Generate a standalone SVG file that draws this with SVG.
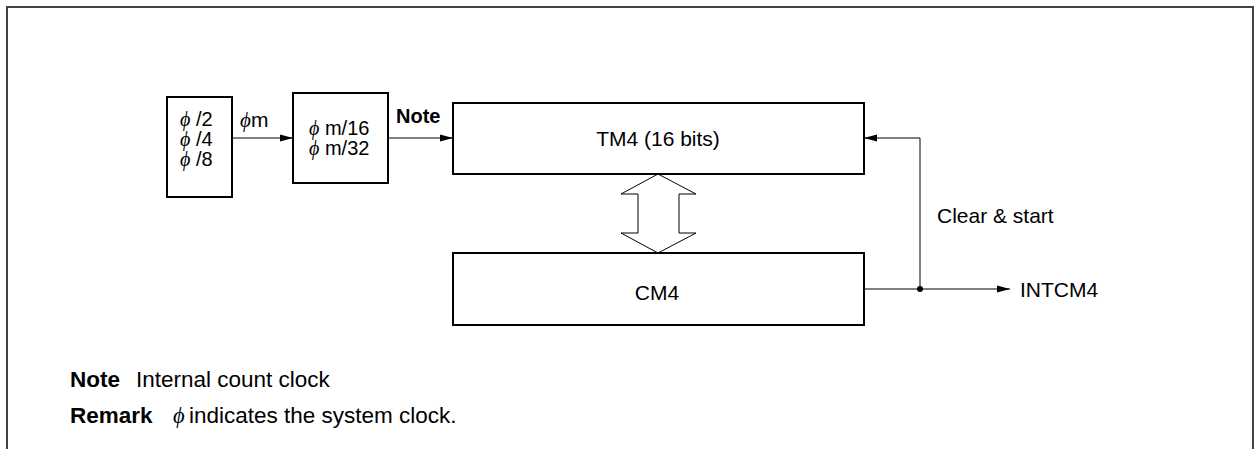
<svg xmlns="http://www.w3.org/2000/svg" width="1254" height="449" viewBox="0 0 1254 449">
<style>
.box{fill:#fff;stroke:#000;stroke-width:2}
.ln{fill:none;stroke:#000;stroke-width:1}
.t{font-family:"Liberation Sans",Arial,sans-serif;font-size:21px;fill:#000}
.s{font-size:20px}
.n{font-size:22.5px}
.b{font-weight:bold}
.phi{font-family:"Liberation Serif","DejaVu Serif",serif;font-style:italic}
</style>
<defs>
<marker id="ah" markerWidth="13" markerHeight="8" refX="13" refY="4" orient="auto" markerUnits="userSpaceOnUse">
<path d="M0,0.5 L13,4 L0,7.5 Z" fill="#000"/>
</marker>
</defs>
<rect width="1254" height="449" fill="#fff"/>
<path d="M7,449 V7 H1253 V449" fill="none" stroke="#444" stroke-width="2"/>

<g id="prescaler1">
<rect class="box" x="167" y="97" width="65" height="100"/>
<text class="t s" x="180" y="126"><tspan class="phi">ϕ</tspan> /2</text>
<text class="t s" x="180" y="146"><tspan class="phi">ϕ</tspan> /4</text>
<text class="t s" x="180" y="166"><tspan class="phi">ϕ</tspan> /8</text>
</g>
<g id="prescaler2">
<rect class="box" x="293" y="93" width="95" height="90"/>
<text class="t s" x="309" y="135"><tspan class="phi">ϕ</tspan> m/16</text>
<text class="t s" x="309" y="155"><tspan class="phi">ϕ</tspan> m/32</text>
</g>
<g id="tm4">
<rect class="box" x="453" y="103" width="411" height="71"/>
<text class="t" x="658" y="146" text-anchor="middle">TM4 (16 bits)</text>
</g>
<g id="cm4">
<rect class="box" x="453" y="253" width="411" height="72"/>
<text class="t" x="657" y="300" text-anchor="middle">CM4</text>
</g>

<g id="connectors">
<line class="ln" x1="232" y1="138" x2="293" y2="138" marker-end="url(#ah)"/>
<line class="ln" x1="388" y1="138" x2="453" y2="138" marker-end="url(#ah)"/>
<polyline class="ln" points="864,289 920,289 920,138 864,138" marker-end="url(#ah)"/>
<line class="ln" x1="920" y1="289" x2="1010" y2="289" marker-end="url(#ah)"/>
<circle cx="920" cy="289" r="3" fill="#000"/>
<polygon class="ln" points="658,174 696,194 679,194 679,233 696,233 658,253 621,233 638,233 638,194 621,194"/>
<text class="t" x="240" y="127"><tspan class="phi">ϕ</tspan>m</text>
<text class="t s b" x="396" y="123">Note</text>
<text class="t" x="937" y="223">Clear &amp; start</text>
<text class="t" x="1020" y="297">INTCM4</text>
</g>

<g id="notes">
<text class="t n b" x="70" y="387">Note</text>
<text class="t n" x="136" y="387">Internal count clock</text>
<text class="t n b" x="70" y="423">Remark</text>
<text class="t n" x="173" y="423"><tspan class="phi">ϕ</tspan></text>
<text class="t n" x="189" y="423">indicates the system clock.</text>
</g>
</svg>
